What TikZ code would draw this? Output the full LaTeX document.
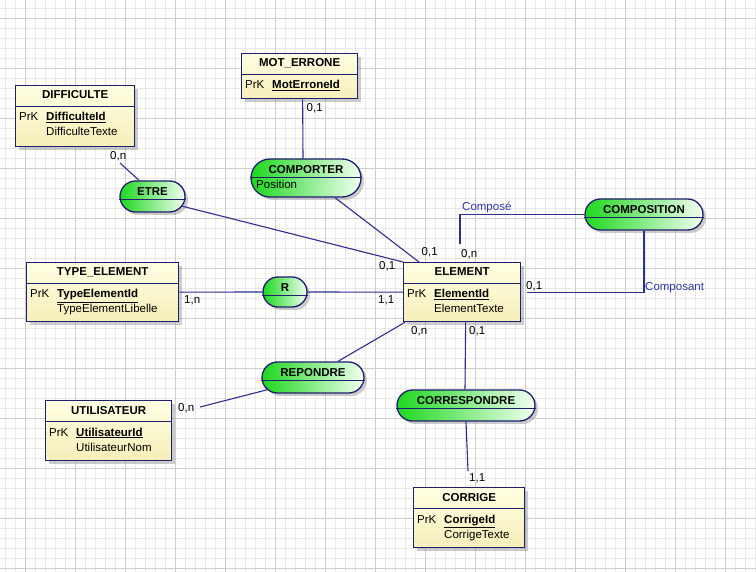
\documentclass[tikz,border=0pt]{standalone}
\usepackage{fontspec}
\setmainfont{Liberation Sans}
\usetikzlibrary{shapes.misc,shadows}
\definecolor{navy}{HTML}{1F1F70}
\definecolor{linec}{HTML}{2E2E8E}
\definecolor{entTop}{HTML}{FFFFE2}
\definecolor{entBot}{HTML}{F6EEBA}
\definecolor{grnL}{HTML}{1ED81E}
\definecolor{grnR}{HTML}{F2FFF2}
\definecolor{gridminor}{HTML}{E9E9E9}
\definecolor{gridmajor}{HTML}{CDCDCD}
\definecolor{roleblue}{HTML}{3333AA}
\tikzset{
  txt/.style={inner sep=0pt, font=\fontsize{11.5}{13}\selectfont},
  ttl/.style={inner sep=0pt, font=\fontsize{11.5}{13}\selectfont\bfseries},
  card/.style={txt, anchor=base west},
  role/.style={txt, anchor=base west, text=roleblue},
  ent/.style={draw=navy, line width=1.3pt, top color=entTop, bottom color=entBot,
    anchor=north west, inner sep=0pt,
    drop shadow={shadow xshift=3pt, shadow yshift=-3pt, opacity=0.4}},
  asc/.style={rounded rectangle, draw=navy, line width=1.3pt, left color=grnL, right color=grnR,
    anchor=center, inner sep=0pt,
    drop shadow={shadow xshift=3pt, shadow yshift=-3pt, opacity=0.4}},
  sepline/.style={draw=navy, line width=1pt},
  conn/.style={draw=linec, line width=1.1pt},
}
\newcommand\entity[8]{%
  \node[ent, minimum width=#4pt, minimum height=#5pt] (#1) at (#2,#3) {};
  \draw[sepline] ([yshift=-21.5pt]#1.north west) -- ([yshift=-21.5pt]#1.north east);
  \node[ttl, anchor=base] (#1t) at ([yshift=-14pt]#1.north) {#6};
  \node[txt, anchor=base west] (#1p) at ({#2+4},{#3+36}) {PrK};
  \node[txt, anchor=base west] (#1k) at ({#2+31},{#3+36}) {\textbf{\underline{#7}}};
  \if\relax\detokenize{#8}\relax\else
  \node[txt, anchor=base west] (#1a) at ({#2+31},{#3+51}) {#8};\fi
}
\newcommand\assoc[7]{%
  \pgfmathsetmacro\ax{#2+#4/2}\pgfmathsetmacro\ay{#3+#5/2}\pgfmathsetmacro\ad{#5/2-19}
  \node[asc, minimum width=#4pt, minimum height=#5pt] (#1) at (\ax,\ay) {};
  \draw[sepline] ([yshift=\ad pt]#1.west) -- ([yshift=\ad pt]#1.east);
  \node[ttl, anchor=base] (#1t) at ({#2+#4/2},{#3+15}) {#6};
  \if\relax\detokenize{#7}\relax\else
  \node[txt, anchor=base west] (#1a) at ({#2+5},{#3+30}) {#7};\fi
}
\begin{document}
\begin{tikzpicture}[x=1pt,y=-1pt]
\useasboundingbox[fill=white] (0,0) rectangle (756,572);
% grid
\foreach \x in {5,15,...,755} \draw[gridminor, line width=0.5pt] (\x,0) -- (\x,572);
\foreach \y in {8,18,...,568} \draw[gridminor, line width=0.5pt] (0,\y) -- (756,\y);
\foreach \x in {25,75,...,725} \draw[gridmajor, line width=0.6pt] (\x,0) -- (\x,572);
\foreach \y in {18,68,...,568} \draw[gridmajor, line width=0.6pt] (0,\y) -- (756,\y);

% connector free ends
\coordinate (diffEnd) at (120,163);
\coordinate (composeEnd) at (460,244);
\coordinate (utilEnd) at (200,407);
\coordinate (corrEnd) at (468,471);

% entities
\entity{mot}{241}{53}{116}{45}{MOT\_ERRONE}{MotErroneId}{}
\entity{diff}{15}{85}{119}{61}{DIFFICULTE}{DifficulteId}{DifficulteTexte}
\entity{type}{26}{262}{152}{59}{TYPE\_ELEMENT}{TypeElementId}{TypeElementLibelle}
\entity{elem}{403}{262}{117}{59}{ELEMENT}{ElementId}{ElementTexte}
\entity{util}{45}{400}{126}{60}{UTILISATEUR}{UtilisateurId}{UtilisateurNom}
\entity{corr}{413}{487}{111}{60}{CORRIGE}{CorrigeId}{CorrigeTexte}

% associations
\assoc{etre}{120}{181}{65}{31}{ETRE}{}
\assoc{comporter}{251}{159}{110}{38}{COMPORTER}{Position}
\assoc{compo}{585}{199}{118}{31}{COMPOSITION}{}
\assoc{r}{263}{277}{44}{30}{R}{}
\assoc{rep}{262}{362}{102}{31}{REPONDRE}{}
\assoc{corresp}{397}{390}{138}{31}{CORRESPONDRE}{}

% connectors
\draw[conn] ([xshift=3pt]mot.south) -- ([xshift=-3pt]comporter.north);
\draw[conn] (diffEnd) -- ([xshift=-13.5pt]etre.north);
\draw[conn] (etre.-18) -- (elem.north west);
\draw[conn] ([xshift=29pt]comporter.south) -- ([xshift=16pt]elem.north west);
\draw[conn] (type.east) -- (r.west);
\draw[conn] (r.east) -- (elem.west);
\draw[conn] (composeEnd) |- (compo.west);
\draw[conn] (compo.south) |- ([xshift=6pt]elem.east);
\draw[conn] ([xshift=2pt]elem.south west) -- ([xshift=25pt]rep.north);
\draw[conn] (rep.195) -- (utilEnd);
\draw[conn] ([xshift=3.5pt]elem.south) -- ([xshift=-1pt]corresp.north);
\draw[conn] (corresp.south) -- (corrEnd);

% cardinalities and roles
\node[card] (c1) at (306.5,112) {0,1};
\node[card] (c2) at (110,160) {0,n};
\node[card] (c3) at (421.5,256) {0,1};
\node[card] (c4) at (461,258) {0,n};
\node[card] (c5) at (379,270) {0,1};
\node[card] (c6) at (184,304) {1,n};
\node[card] (c7) at (378,304) {1,1};
\node[card] (c8) at (526,290) {0,1};
\node[card] (c9) at (411,335) {0,n};
\node[card] (c10) at (469,335) {0,1};
\node[card] (c11) at (178,411) {0,n};
\node[card] (c12) at (469,482) {1,1};
\node[role] (r1) at (462,211) {Composé};
\node[role] (r2) at (645,291) {Composant};
\end{tikzpicture}
\end{document}
